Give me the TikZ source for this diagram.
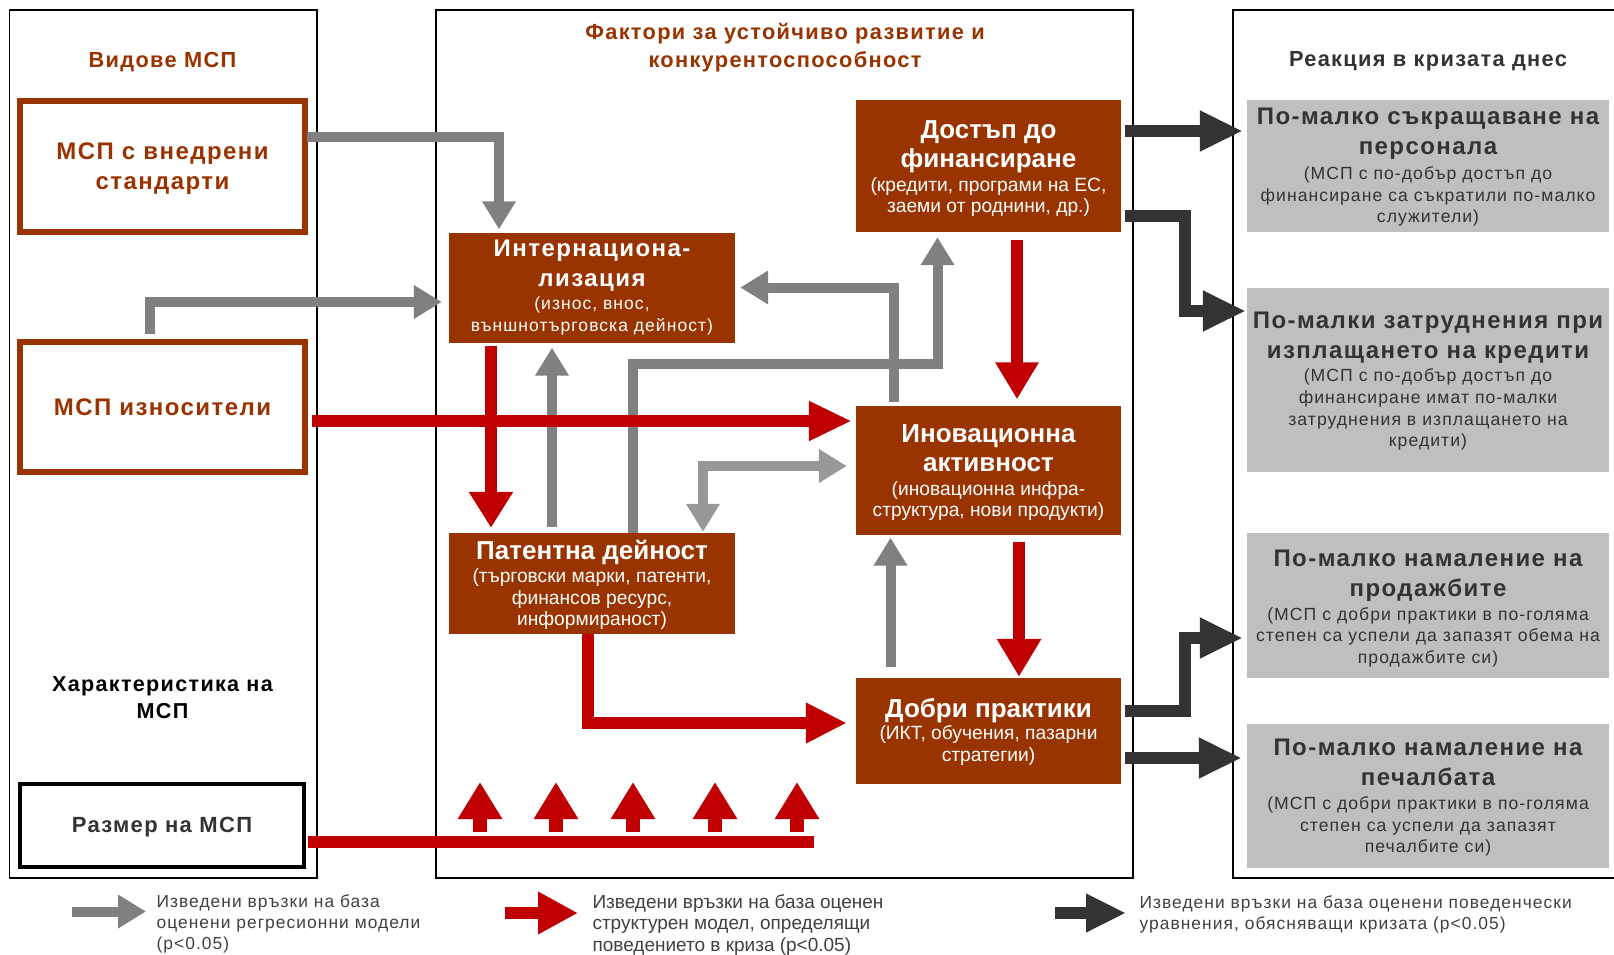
\documentclass[tikz,border=0pt]{standalone}
\usepackage{fontspec}
\setmainfont{Liberation Sans}
\newfontfamily\trk{Liberation Sans}[LetterSpace=6]
\usetikzlibrary{arrows.meta}
\definecolor{brn}{RGB}{153,51,0}
\definecolor{rd}{RGB}{192,0,0}
\definecolor{gr}{RGB}{128,128,128}
\definecolor{lgr}{RGB}{152,152,152}
\definecolor{dk}{RGB}{51,51,51}
\definecolor{bx}{RGB}{191,191,191}
\definecolor{txt}{RGB}{51,51,51}
\definecolor{legtxt}{RGB}{64,64,64}
\newcommand{\nsp}{\spaceskip=\fontdimen2\font\relax\xspaceskip=\fontdimen2\font\relax}
\newcommand{\ftitle}{\bfseries\fontsize{26}{29}\selectfont\nsp}
\newcommand{\fsub}{\mdseries\fontsize{19.2}{21.5}\selectfont\nsp}
\newcommand{\ititle}{\trk\bfseries\fontsize{24}{29.4}\selectfont\nsp}
\newcommand{\isub}{\trk\mdseries\fontsize{17.5}{21.7}\selectfont\nsp}
\newcommand{\rtitle}{\trk\bfseries\fontsize{24}{30}\selectfont\nsp}
\newcommand{\rsub}{\trk\mdseries\fontsize{17.6}{21.7}\selectfont\nsp}
\newcommand{\dn}[1]{\par\kern-#1pt}
\begin{document}
\begin{tikzpicture}[x=1pt,y=-1pt,line join=miter,
  panel/.style={draw=black,line width=1.2},
  ptitle/.style={align=center,font=\trk\bfseries\fontsize{21.8}{28}\selectfont},
  lbox/.style={draw=brn,line width=6,minimum width=285,minimum height=131,inner sep=0,text width=279,align=center,text=brn,font=\trk\bfseries\fontsize{24}{30}\selectfont},
  fbox/.style={fill=brn,text=white,inner sep=0,minimum width=265,text width=262,align=center},
  ibox/.style={fill=brn,text=white,inner sep=0,minimum width=286,text width=284,align=center},
  rbox/.style={fill=bx,text=txt,inner sep=0,minimum width=362,text width=362,align=center},
  garrow/.style={draw=gr,line width=10,-{Triangle[length=28pt,width=32pt]}},
  lgarrow/.style={draw=lgr,line width=10,{Triangle[length=28pt,width=32pt]}-{Triangle[length=28pt,width=32pt]}},
  rarrow/.style={draw=rd,line width=12,-{Triangle[length=40pt,width=40pt]}},
  rline/.style={draw=rd,line width=12},
  uparrow/.style={draw=rd,line width=14,-{Triangle[length=37pt,width=42pt]}},
  darrow/.style={draw=dk,line width=12,-{Triangle[length=43pt,width=38pt]}},
  legtext/.style={anchor=west,align=left,text=legtxt,font=\trk\fontsize{17.4}{21}\selectfont}
]
\useasboundingbox (0,0) rectangle (1614,955);
% panels
\draw[panel] (9.5,10) rectangle (317,878);
\draw[panel] (436,10) rectangle (1133,878);
\draw[panel] (1233,10) rectangle (1630,878);

% titles
\node[ptitle,text=brn] (tL) at (162.5,62) {Видове МСП};
\node[ptitle,text=brn] (tM) at (785,48) {Фактори за устойчиво развитие и\\конкурентоспособност};
\node[ptitle,text=txt] (tR) at (1428,61) {Реакция в кризата днес};
\node[ptitle,text=black,font=\trk\bfseries\fontsize{21.6}{27}\selectfont] (tC) at (162.5,698) {Характеристика на\\МСП};

% left boxes
\node[lbox] (s1) at (162.5,166.5) {\nsp МСП с внедрени\\стандарти\dn{4}};
\node[lbox,minimum height=130] (s2) at (162.5,407) {\nsp МСП износители\par};
\node[lbox,draw=black,line width=4.5,minimum width=284,minimum height=83,text=txt,font=\trk\bfseries\fontsize{22}{26}\selectfont] (s3) at (162,825.5) {\nsp Размер на МСП\dn{4}};

% factor boxes
\node[ibox,minimum height=110] (int) at (592,287.5) {\ititle Интернациона-\\лизация\par\vspace{1.8pt}\isub (износ, внос,\\външнотърговска дейност)\par};
\node[fbox,minimum height=132] (dost) at (988.5,166) {\ftitle Достъп до\\финансиране\par\vspace{2.8pt}\fsub (кредити, програми на ЕС,\\заеми от роднини, др.)\dn{5}};
\node[fbox,minimum height=129] (inov) at (988.5,470) {\ftitle Иновационна\\активност\par\vspace{2.8pt}\fsub (иновационна инфра-\\структура, нови продукти)\dn{5}};
\node[ibox,minimum height=101] (pat) at (592,583.5) {\ftitle Патентна дейност\par\vspace{1.9pt}\fsub (търговски марки, патенти,\\финансов ресурс,\\информираност)\dn{3}};
\node[fbox,minimum height=106] (dobri) at (988.5,731) {\ftitle Добри практики\par\vspace{0.5pt}\fsub (ИКТ, обучения, пазарни\\стратегии)\dn{2}};

% result boxes
\node[rbox,minimum height=132] (r1) at (1428,166) {\rtitle По-малко съкращаване на\\персонала\par\vspace{3pt}\rsub (МСП с по-добър достъп до\\финансиране са съкратили по-малко\\служители)\dn{3}};
\node[rbox,minimum height=184] (r2) at (1428,380) {\rtitle По-малки затруднения при\\изплащането на кредити\par\vspace{2pt}\rsub (МСП с по-добър достъп до\\финансиране имат по-малки\\затруднения в изплащането на\\кредити)\dn{2}};
\node[rbox,minimum height=145] (r3) at (1428,605.5) {\rtitle По-малко намаление на\\продажбите\par\vspace{2pt}\rsub (МСП с добри практики в по-голяма\\степен са успели да запазят обема на\\продажбите си)\dn{6}};
\node[rbox,minimum height=144] (r4) at (1428,796) {\rtitle По-малко намаление на\\печалбата\par\vspace{2.5pt}\rsub (МСП с добри практики в по-голяма\\степен са успели да запазят\\печалбите си)\dn{3}};

% gray connectors
\coordinate (g4c) at (937.5,363.5);
\draw[garrow] ([xshift=-1,yshift=29.5]s1.east) -| ([xshift=-93,yshift=3]int.north);
\draw[garrow] ([xshift=-12.5,yshift=5]s2.north) |- ([xshift=-7,yshift=-14.5]int.west);
\draw[garrow] ([xshift=-94.5,yshift=3]inov.north) |- ([xshift=5]int.east);
\draw[garrow] ([xshift=41]pat.north) |- (g4c) -- ([xshift=-51,yshift=-5]dost.south);
\draw[garrow] ([xshift=-40,yshift=6]pat.north) -- ([xshift=-40,yshift=-5]int.south);
\draw[lgarrow] ([xshift=111,yshift=1]pat.north) |- ([xshift=-9,yshift=4]inov.west);
\draw[garrow] ([xshift=-98,yshift=11]dobri.north) -- ([xshift=-98,yshift=-3]inov.south);

% red connectors
\draw[rarrow,-{Triangle[length=43pt,width=37pt]}] ([xshift=4,yshift=-14]s2.east) -- ([xshift=-4,yshift=49]inov.west);
\draw[rarrow,-{Triangle[length=36pt,width=42pt]}] ([xshift=-101,yshift=-3]int.south) -- ([xshift=-101,yshift=5]pat.north);
\draw[rarrow,-{Triangle[length=37pt,width=41pt]}] ([xshift=28.5,yshift=-8]dost.south) -- ([xshift=28.5,yshift=6]inov.north);
\draw[rarrow,-{Triangle[length=38pt,width=42pt]}] ([xshift=30.5,yshift=-7]inov.south) -- ([xshift=30.5,yshift=1]dobri.north);
\draw[rarrow,-{Triangle[length=41pt,width=38pt]}] ([xshift=-4]pat.south) |- ([xshift=-9,yshift=8]dobri.west);
\coordinate (rbarend) at (814,842);
\draw[rline] ([xshift=2,yshift=-16.5]s3.east) -- (rbarend);
\foreach \xx/\nm in {480/u1,556/u2,633/u3,715/u4,797/u5}{
  \coordinate (\nm a) at (\xx,832);
  \coordinate (\nm b) at (\xx,782);
  \draw[uparrow] (\nm a) -- (\nm b);
}

% dark connectors
\coordinate (a2c) at (1185,311);
\coordinate (a3c) at (1185,638);
\draw[darrow] ([xshift=4,yshift=35]dost.east) -- ([xshift=-4,yshift=35]r1.west);
\draw[darrow] ([xshift=4,yshift=-50]dost.east) -| (a2c) -- ([xshift=-1,yshift=69]r2.west);
\draw[darrow] ([xshift=4,yshift=20]dobri.east) -| (a3c) -- ([xshift=-4,yshift=-32.5]r3.west);
\draw[darrow] ([xshift=4,yshift=-27]dobri.east) -- ([xshift=-5,yshift=38]r4.west);

% legend
\coordinate (lg1a) at (72,911.5);
\coordinate (lg1b) at (146,911.5);
\coordinate (lg2a) at (505,913);
\coordinate (lg2b) at (578,913);
\coordinate (lg3a) at (1055,913);
\coordinate (lg3b) at (1126,913);
\draw[garrow] (lg1a) -- (lg1b);
\draw[rarrow] (lg2a) -- (lg2b);
\draw[darrow,-{Triangle[length=40pt,width=36pt]}] (lg3a) -- (lg3b);
\node[legtext] (l1) at (153,924) {Изведени връзки на база\\оценени регресионни модели\\(p<0.05)};
\node[legtext,font=\fontsize{19}{21.5}\selectfont] (l2) at (589,924.5) {Изведени връзки на база оценен\\структурен модел, определящи\\поведението в криза (p<0.05)};
\node[legtext] (l3) at (1136,914) {Изведени връзки на база оценени поведенчески\\уравнения, обясняващи кризата (p<0.05)};
\end{tikzpicture}
\end{document}
